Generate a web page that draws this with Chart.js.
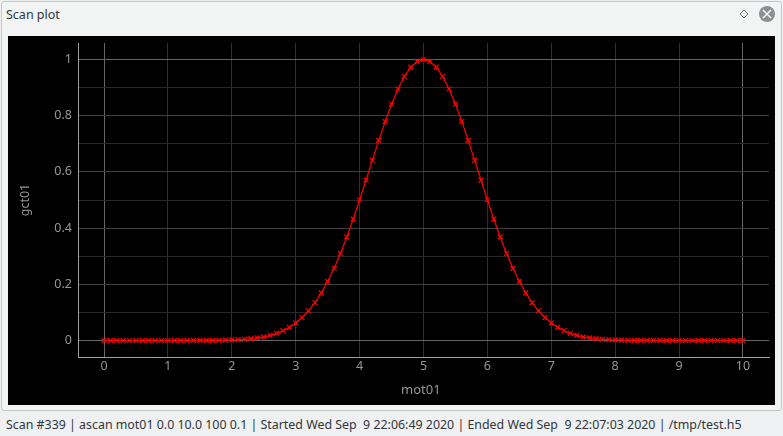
<!DOCTYPE html>
<html>
<head>
<meta charset="utf-8">
<title>Scan plot</title>
<script src="https://cdn.jsdelivr.net/npm/chart.js@4"></script>
<style>
  html, body { margin: 0; padding: 0; background: #eff0f1; }
  body { width: 783px; height: 436px; position: relative; overflow: hidden; font-family: "Noto Sans", sans-serif; color: #31363b; }
  #panel { position: absolute; left: 1px; top: 1px; width: 779px; height: 408px; border: 1px solid #c4c6c8; border-radius: 3px; background: #f2f3f3; }
  #title { position: absolute; left: 6px; top: 6px; font-size: 12.5px; line-height: 17px; }
  #icons { position: absolute; left: 735px; top: 5px; }
  #plot { position: absolute; left: 8px; top: 36px; width: 767px; height: 369px; background: #000; }
  #xlabel { position: absolute; left: 401px; top: 380px; font-size: 13px; line-height: 18px; color: #969696; }
  #status { position: absolute; left: 6px; top: 416px; font-size: 12.4px; line-height: 18px; white-space: pre; }
</style>
</head>
<body>
<div id="panel"></div>
<div id="title">Scan plot</div>
<svg id="icons" width="44" height="18">
  <path d="M9 5 L13 9 L9 13 L5 9 Z" fill="none" stroke="#6f7376" stroke-width="1"/>
  <circle cx="32" cy="9" r="8" fill="#8d9093"/>
  <path d="M28 5 L36 13 M36 5 L28 13" stroke="#fff" stroke-width="1.4"/>
</svg>
<div id="plot"><canvas id="scan" width="767" height="369"></canvas></div>
<div id="xlabel">mot01</div>
<div id="status">Scan #339 | ascan mot01 0.0 10.0 100 0.1 | Started Wed Sep  9 22:06:49 2020 | Ended Wed Sep  9 22:07:03 2020 | /tmp/test.h5</div>

<script>
var mot01 = [
  0.0, 0.1, 0.2, 0.3, 0.4, 0.5, 0.6, 0.7, 0.8, 0.9,
  1.0, 1.1, 1.2, 1.3, 1.4, 1.5, 1.6, 1.7, 1.8, 1.9,
  2.0, 2.1, 2.2, 2.3, 2.4, 2.5, 2.6, 2.7, 2.8, 2.9,
  3.0, 3.1, 3.2, 3.3, 3.4, 3.5, 3.6, 3.7, 3.8, 3.9,
  4.0, 4.1, 4.2, 4.3, 4.4, 4.5, 4.6, 4.7, 4.8, 4.9,
  5.0, 5.1, 5.2, 5.3, 5.4, 5.5, 5.6, 5.7, 5.8, 5.9,
  6.0, 6.1, 6.2, 6.3, 6.4, 6.5, 6.6, 6.7, 6.8, 6.9,
  7.0, 7.1, 7.2, 7.3, 7.4, 7.5, 7.6, 7.7, 7.8, 7.9,
  8.0, 8.1, 8.2, 8.3, 8.4, 8.5, 8.6, 8.7, 8.8, 8.9,
  9.0, 9.1, 9.2, 9.3, 9.4, 9.5, 9.6, 9.7, 9.8, 9.9,
  10.0
];
var gct01 = [
  0, 0, 0, 0, 0, 0, 0, 0, 0, 0,
  0, 0, 0, 0.0001, 0.0001, 0.0002, 0.0003, 0.0005, 0.0008, 0.0013,
  0.002, 0.0029, 0.0044, 0.0064, 0.0092, 0.0131, 0.0185, 0.0256, 0.0349, 0.047,
  0.0625, 0.0819, 0.1058, 0.135, 0.1696, 0.2102, 0.257, 0.3098, 0.3686, 0.4323,
  0.5, 0.5704, 0.6417, 0.712, 0.7792, 0.8409, 0.895, 0.9395, 0.9727, 0.9931,
  1, 0.9931, 0.9727, 0.9395, 0.895, 0.8409, 0.7792, 0.712, 0.6417, 0.5704,
  0.5, 0.4323, 0.3686, 0.3098, 0.257, 0.2102, 0.1696, 0.135, 0.1058, 0.0819,
  0.0625, 0.047, 0.0349, 0.0256, 0.0185, 0.0131, 0.0092, 0.0064, 0.0044, 0.0029,
  0.002, 0.0013, 0.0008, 0.0005, 0.0003, 0.0002, 0.0001, 0.0001, 0, 0,
  0, 0, 0, 0, 0, 0, 0, 0, 0, 0,
  0
];
var xTicks = [0, 1, 2, 3, 4, 5, 6, 7, 8, 9, 10];
var yTicks = [0, 0.1, 0.2, 0.3, 0.4, 0.5, 0.6, 0.7, 0.8, 0.9, 1];
var yLabels = ["0", "", "0.2", "", "0.4", "", "0.6", "", "0.8", "", "1"];

var points = mot01.map(function (x, i) {
  return { x: x, y: gct01[i] };
});

var axisColor = "#a0a0a0";
var textColor = "#969696";
var tickFont = { family: "Noto Sans", size: 12.5 };

// the label overhang chart.js adds would push the plot area in
function noOverhang(axis) {
  axis.paddingTop = 0;
  axis.paddingBottom = 0;
  axis.paddingLeft = 0;
  axis.paddingRight = 0;
}

new Chart(document.getElementById("scan"), {
  type: "scatter",
  data: {
    datasets: [
      {
        data: points,
        showLine: true,
        borderColor: "#ff0000",
        borderWidth: 1.2,
        pointStyle: "crossRot",
        pointRadius: 3.4,
        pointBorderColor: "#ff0000",
        pointBorderWidth: 1.3,
        pointHoverRadius: 3.4,
      },
    ],
  },
  options: {
    responsive: false,
    animation: false,
    events: [],
    layout: { padding: { top: 7, right: 6, left: 0, bottom: 0 } },
    plugins: { legend: { display: false }, tooltip: { enabled: false } },
    scales: {
      x: {
        type: "linear",
        min: -0.407,
        max: 10.407,
        afterBuildTicks: function (axis) {
          axis.ticks = xTicks.map(function (v) {
            return { value: v };
          });
        },
        afterFit: function (axis) {
          axis.height = 48;
          noOverhang(axis);
        },
        border: { color: axisColor, width: 1 },
        grid: {
          drawTicks: false,
          color: function (ctx) {
            var v = ctx.tick && ctx.tick.value;
            return v === 0 || v === 10 ? "#666666" : "#303030";
          },
        },
        ticks: {
          color: textColor,
          font: tickFont,
          padding: 2,
          maxRotation: 0,
          autoSkip: false,
          callback: function (v) {
            return String(v);
          },
        },
      },
      y: {
        type: "linear",
        min: -0.0587,
        max: 1.0587,
        afterBuildTicks: function (axis) {
          axis.ticks = yTicks.map(function (v) {
            return { value: v };
          });
        },
        afterFit: function (axis) {
          axis.width = 70;
          noOverhang(axis);
        },
        border: { color: axisColor, width: 1 },
        grid: {
          drawTicks: false,
          color: function (ctx) {
            var i = ctx.index;
            if (i === 0 || i === 10) return "#666666";
            return i % 2 === 0 ? "#404040" : "#282828";
          },
        },
        ticks: {
          color: textColor,
          font: tickFont,
          padding: 6,
          autoSkip: false,
          callback: function (v, i) {
            return yLabels[i];
          },
        },
        title: {
          display: true,
          text: "gct01",
          color: textColor,
          font: tickFont,
          padding: { top: 10, bottom: 0 },
        },
      },
    },
  },
});
</script>
</body>
</html>
